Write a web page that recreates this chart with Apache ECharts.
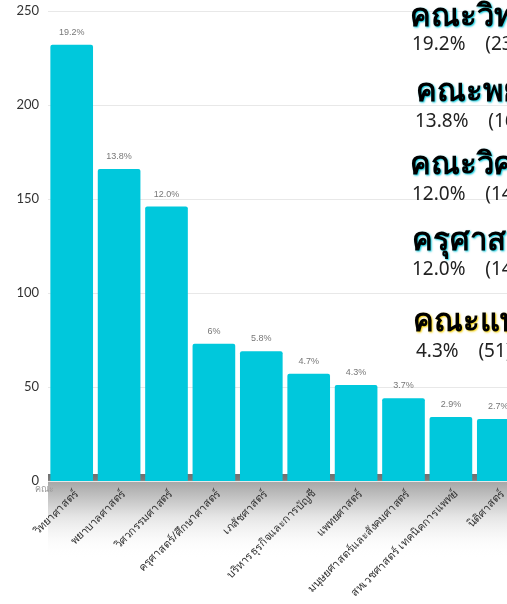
<!DOCTYPE html>
<html>
<head>
<meta charset="utf-8">
<script src="https://cdn.jsdelivr.net/npm/echarts@6/dist/echarts.min.js"></script>
<style>
html,body{margin:0;padding:0;background:#fff;}
#c{width:507px;height:604px;}
</style>
</head>
<body>
<div id="c"></div>
<script>
var categories = ['วิทยาศาสตร์','พยาบาลศาสตร์','วิศวกรรมศาสตร์','ครุศาสตร์/ศึกษาศาสตร์','เภสัชศาสตร์','บริหารธุรกิจและการบัญชี','แพทยศาสตร์','มนุษยศาสตร์และสังคมศาสตร์','สหเวชศาสตร์ เทคนิคการแพทย์','นิติศาสตร์'];
var values = [232, 166, 146, 73, 69, 57, 51, 44, 34, 33];
var pctLabels = ['19.2%','13.8%','12.0%','6%','5.8%','4.7%','4.3%','3.7%','2.9%','2.7%'];
var yTicks = [0, 50, 100, 150, 200, 250];
var xAxisName = 'คณะ';

var topNames = ['คณะวิทยาศาสตร์','คณะพยาบาลศาสตร์','คณะวิศวกรรมศาสตร์','ครุศาสตร์/ศึกษาศาสตร์','คณะแพทยศาสตร์'];
var topPct = ['19.2%','13.8%','12.0%','12.0%','4.3%'];
var topCounts = ['(232)','(166)','(146)','(146)','(51)'];
var topGlow = ['#00c8dc','#00c8dc','#00c8dc','#00c8dc','#f5d000'];

var titleY = [17, 92, 165, 241, 322];
var titleX = [410, 416, 410, 412, 413];
var subY = [47, 124, 197, 272, 354];
var subX = [412, 415, 412, 412, 416];

var chart = echarts.init(document.getElementById('c'));

var graphics = [
  {
    type: 'rect', z: 0, silent: true,
    shape: { x: 48, y: 474, width: 470, height: 84 },
    style: {
      fill: new echarts.graphic.LinearGradient(0, 0, 0, 1, [
        { offset: 0, color: '#6f6f6f' },
        { offset: 0.07, color: '#7a7a7a' },
        { offset: 0.1, color: '#a8a8a8' },
        { offset: 0.5, color: '#e4e4e4' },
        { offset: 1, color: 'rgba(255,255,255,0)' }
      ])
    }
  },
  {
    type: 'text', z: 50, left: 35, top: 485,
    style: { text: xAxisName, font: '9px "Noto Sans", sans-serif', fill: '#999' }
  }
];
for (var i = 0; i < topNames.length; i++) {
  graphics.push({
    type: 'text', z: 100, left: titleX[i], top: titleY[i] - 15,
    style: {
      text: topNames[i],
      font: 'bold 31px "Noto Sans", sans-serif',
      fill: '#000',
      textShadowColor: topGlow[i],
      textShadowBlur: 2,
      textShadowOffsetX: 1,
      textShadowOffsetY: 1
    }
  });
  graphics.push({
    type: 'text', z: 100, left: subX[i], top: subY[i] - 12,
    style: {
      text: topPct[i] + '    ' + topCounts[i],
      font: '19px "Noto Sans", sans-serif',
      fill: '#222'
    }
  });
}

chart.setOption({
  animation: false,
  backgroundColor: '#fff',
  grid: { left: 48, top: 11, width: 474, bottom: 123, containLabel: false, outerBoundsMode: 'none' },
  xAxis: {
    type: 'category',
    data: categories,
    axisLine: { show: false },
    axisTick: { show: false },
    axisLabel: {
      rotate: 45, interval: 0, color: '#333', fontSize: 11, margin: 16,
      padding: [0, -7, 0, 0],
      fontFamily: '"Noto Sans", sans-serif'
    }
  },
  yAxis: {
    type: 'value',
    min: 0, max: 250, interval: 50,
    axisLine: { show: false },
    axisTick: { show: false },
    axisLabel: { color: '#333', fontSize: 13, margin: 9, fontFamily: 'Lato, sans-serif' },
    splitLine: { lineStyle: { color: '#e8e8e8', width: 1 } }
  },
  series: [{
    type: 'bar',
    data: values,
    barCategoryGap: '10%',
    z: 5,
    itemStyle: { color: '#00c8dc', borderRadius: [2, 2, 0, 0] },
    label: {
      show: true, position: 'top', distance: 8,
      color: '#777', fontSize: 9,
      formatter: function (p) { return pctLabels[p.dataIndex]; }
    }
  }],
  graphic: graphics
});
</script>
</body>
</html>
